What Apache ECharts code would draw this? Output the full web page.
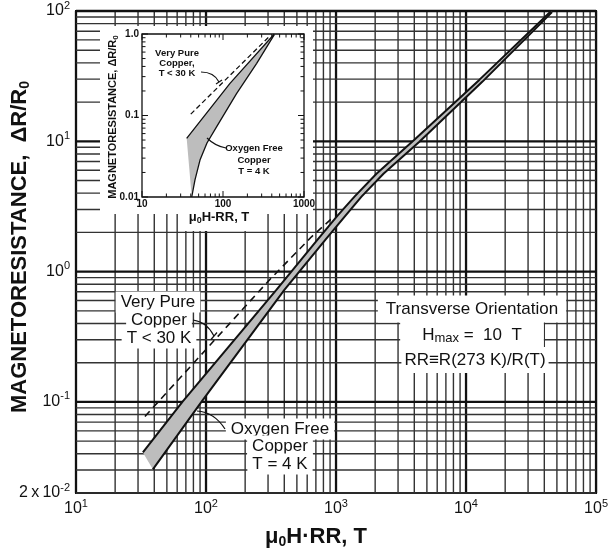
<!DOCTYPE html>
<html>
<head>
<meta charset="utf-8">
<script src="https://cdn.jsdelivr.net/npm/echarts@6/dist/echarts.min.js"></script>
<style>
  html, body { margin: 0; padding: 0; background: #fff; }
  #chart { width: 611px; height: 554px; }
</style>
</head>
<body>
<div id="chart"></div>
<script>
// Magnetoresistance of copper against mu0*H*RR (Kohler plot), log-log.
const FONT = '"Liberation Sans", Arial, Helvetica, sans-serif';

// Main plot: [mu0*H*RR (T), dR/R0]
const pureCopper = [[33.9, 0.0774], [309, 0.868], [648, 1.85], [940, 2.59]];
const ofcUpper = [[32.7, 0.041], [66.3, 0.101], [349, 0.728], [721, 1.76], [1027, 2.69], [1387, 3.76], [2047, 5.64], [4006, 10.27], [12640, 29.6], [45200, 100]];
const ofcLower = [[39.0, 0.0304], [92.8, 0.101], [402, 0.728], [830, 1.76], [1183, 2.69], [1570, 3.76], [2317, 5.64], [4377, 9.91], [13330, 28.6], [45900, 98]];

// Inset: low-field region on its own scale
const insetPure = [[40, 0.104], [380, 0.95]];
const insetUpper = [[35.6, 0.0525], [122, 0.248], [430, 1.0]];
const insetLower = [[41.1, 0.01], [45.1, 0.0162], [52, 0.0284], [63.4, 0.046], [83.6, 0.0729], [147.6, 0.187], [260.6, 0.437], [430, 0.98]];

// Axis ranges / tick labels
const xRange = [10, 100000];
const yRange = [0.02, 100];
const insetXRange = [10, 1000];
const insetYRange = [0.01, 1];
const insetYLabels = { '-2': '0.01', '-1': '0.1', '0': '1.0' };

// log graph-paper rulings: 1..9 in every decade
function logRulings(lo, hi) {
  const out = [];
  for (let e = Math.floor(Math.log10(lo)); e <= Math.ceil(Math.log10(hi)); e++) {
    for (let m = 1; m <= 9; m++) {
      const v = m * Math.pow(10, e);
      if (v >= lo * 0.999 && v <= hi * 1.001) out.push({ v: v, major: m === 1 });
    }
  }
  return out;
}
const xRulings = logRulings(xRange[0], xRange[1]);
const yRulings = logRulings(yRange[0], yRange[1]);
const insetXRulings = logRulings(insetXRange[0], insetXRange[1]);
const insetYRulings = logRulings(insetYRange[0], insetYRange[1]);

function powLabel(v) {
  const e = Math.log10(v);
  const n = Math.round(e);
  if (Math.abs(e - n) < 1e-6) return '{b|10}{s|' + n + '}';
  const f = Math.floor(e);
  return '{b|' + Math.round(v / Math.pow(10, f)) + '\u2009x\u200910}{s|' + f + '}';
}
const powRich = {
  b: { fontFamily: FONT, fontSize: 16, color: '#111', lineHeight: 22 },
  s: { fontFamily: FONT, fontSize: 11, color: '#111', lineHeight: 12, verticalAlign: 'top' }
};

const minorLine = { stroke: '#333', lineWidth: 1.4 };
const majorLine = { stroke: '#111', lineWidth: 2.3 };

function renderRulings(params, api) {
  const children = [];
  xRulings.forEach(function (g) {
    const a = api.coord([g.v, yRange[0]]), b = api.coord([g.v, yRange[1]]);
    children.push({ type: 'line', shape: { x1: a[0], y1: a[1], x2: b[0], y2: b[1] }, style: g.major ? majorLine : minorLine });
  });
  yRulings.forEach(function (g) {
    const a = api.coord([xRange[0], g.v]), b = api.coord([xRange[1], g.v]);
    children.push({ type: 'line', shape: { x1: a[0], y1: a[1], x2: b[0], y2: b[1] }, style: g.major ? majorLine : minorLine });
  });
  return { type: 'group', children: children };
}

function renderInsetTicks(params, api) {
  const children = [];
  const st = { stroke: '#111', lineWidth: 1 };
  insetXRulings.forEach(function (g) {
    const len = g.major ? 6 : 3.5;
    const b = api.coord([g.v, insetYRange[0]]), t = api.coord([g.v, insetYRange[1]]);
    children.push({ type: 'line', shape: { x1: b[0], y1: b[1], x2: b[0], y2: b[1] - len }, style: st });
    children.push({ type: 'line', shape: { x1: t[0], y1: t[1], x2: t[0], y2: t[1] + len }, style: st });
  });
  insetYRulings.forEach(function (g) {
    const len = g.major ? 6 : 3.5;
    const l = api.coord([insetXRange[0], g.v]), r = api.coord([insetXRange[1], g.v]);
    children.push({ type: 'line', shape: { x1: l[0], y1: l[1], x2: l[0] + len, y2: l[1] }, style: st });
    children.push({ type: 'line', shape: { x1: r[0], y1: r[1], x2: r[0] - len, y2: r[1] }, style: st });
  });
  return { type: 'group', children: children };
}

function bandRenderer(upper, lower) {
  return function (params, api) {
    const pts = upper.concat(lower.slice().reverse()).map(function (d) { return api.coord(d); });
    return { type: 'polygon', shape: { points: pts }, style: { fill: '#bdbdbd' } };
  };
}

// white-backed annotation text
function boxText(text, x, y, size, padding) {
  return {
    type: 'text', x: x, y: y, z: 3,
    style: {
      text: text, fontFamily: FONT, fontSize: size, fill: '#111',
      align: 'center', verticalAlign: 'middle',
      backgroundColor: '#fff', padding: padding || [2, 5]
    }
  };
}
function plainText(text, x, y, size, weight) {
  return {
    type: 'text', x: x, y: y, z: 7,
    style: { text: text, fontFamily: FONT, fontSize: size, fontWeight: weight || 'normal', fill: '#111', align: 'center', verticalAlign: 'middle' }
  };
}
function curve(x1, y1, cx, cy, x2, y2) {
  return { type: 'bezierCurve', z: 9, shape: { x1: x1, y1: y1, cpx1: cx, cpy1: cy, x2: x2, y2: y2 }, style: { stroke: '#111', lineWidth: 1.2, fill: null } };
}
function seg(x1, y1, x2, y2) {
  return { type: 'line', z: 9, shape: { x1: x1, y1: y1, x2: x2, y2: y2 }, style: { stroke: '#111', lineWidth: 1.2 } };
}
function richTitle(text, x, y, rot, big, small) {
  return {
    type: 'text', x: x, y: y, rotation: rot, z: 7,
    style: {
      text: text, align: 'center', verticalAlign: 'middle',
      rich: {
        t: { fontFamily: FONT, fontSize: big, fontWeight: 'bold', fill: '#111', lineHeight: big + 3 },
        u: { fontFamily: FONT, fontSize: small, fontWeight: 'bold', fill: '#111', lineHeight: small + 1, verticalAlign: 'bottom' }
      }
    }
  };
}

const chart = echarts.init(document.getElementById('chart'));
const insetXName = richTitle('{t|\u03bc}{u|0}{t|H-RR, T}', 219, 219, 0, 13, 9);
insetXName.style.backgroundColor = '#fff';
insetXName.style.padding = [2, 4, 6, 4];

chart.setOption({
  animation: false,
  backgroundColor: '#fff',
  grid: [
    { left: 76, top: 11, width: 521, height: 482, show: true, borderColor: '#111', borderWidth: 2, backgroundColor: 'transparent', z: 0 },
    { left: 142, top: 34, width: 162, height: 163, show: true, borderColor: '#111', borderWidth: 1.3, backgroundColor: '#fff', z: 6 }
  ],
  xAxis: [
    {
      type: 'log', logBase: 10, gridIndex: 0, min: xRange[0], max: xRange[1],
      axisLine: { show: false }, axisTick: { show: false }, splitLine: { show: false },
      axisLabel: { formatter: powLabel, rich: powRich, margin: 5, showMinLabel: true, showMaxLabel: true }
    },
    {
      type: 'log', logBase: 10, gridIndex: 1, min: insetXRange[0], max: insetXRange[1], z: 6,
      axisLine: { show: false }, axisTick: { show: false }, splitLine: { show: false },
      axisLabel: { fontFamily: FONT, fontSize: 10, fontWeight: 'bold', color: '#111', margin: 2, showMinLabel: true, showMaxLabel: true,
        formatter: function (v) { return String(Math.round(v)); } }
    }
  ],
  yAxis: [
    {
      type: 'log', logBase: 10, gridIndex: 0, min: yRange[0], max: yRange[1],
      axisLine: { show: false }, axisTick: { show: false }, splitLine: { show: false },
      axisLabel: { formatter: powLabel, rich: powRich, margin: 6, showMinLabel: true, showMaxLabel: true }
    },
    {
      type: 'log', logBase: 10, gridIndex: 1, min: insetYRange[0], max: insetYRange[1], z: 6,
      axisLine: { show: false }, axisTick: { show: false }, splitLine: { show: false },
      axisLabel: { fontFamily: FONT, fontSize: 10, fontWeight: 'bold', color: '#111', margin: 3, showMinLabel: true, showMaxLabel: true,
        formatter: function (v) { return insetYLabels[String(Math.round(Math.log10(v)))] || ''; } }
    }
  ],
  series: [
    { type: 'custom', name: 'rulings', xAxisIndex: 0, yAxisIndex: 0, data: [[100, 1]], z: 1, silent: true, renderItem: renderRulings },
    { type: 'custom', name: 'OFC band', xAxisIndex: 0, yAxisIndex: 0, data: [[100, 1]], z: 4, silent: true, renderItem: bandRenderer(ofcUpper, ofcLower) },
    { type: 'line', name: 'OFC upper', xAxisIndex: 0, yAxisIndex: 0, data: ofcUpper, symbol: 'none', z: 5, silent: true, lineStyle: { color: '#111', width: 2 } },
    { type: 'line', name: 'OFC lower', xAxisIndex: 0, yAxisIndex: 0, data: ofcLower, symbol: 'none', z: 5, silent: true, lineStyle: { color: '#111', width: 2 } },
    { type: 'line', name: 'Very pure', xAxisIndex: 0, yAxisIndex: 0, data: pureCopper, symbol: 'none', z: 5, silent: true, lineStyle: { color: '#111', width: 1.6, type: [7, 5] } },

    { type: 'custom', name: 'inset ticks', xAxisIndex: 1, yAxisIndex: 1, data: [[100, 0.1]], z: 7, silent: true, renderItem: renderInsetTicks },
    { type: 'custom', name: 'inset band', xAxisIndex: 1, yAxisIndex: 1, data: [[100, 0.1]], z: 7, silent: true, renderItem: bandRenderer(insetUpper, insetLower) },
    { type: 'line', name: 'inset upper', xAxisIndex: 1, yAxisIndex: 1, data: insetUpper, symbol: 'none', z: 8, silent: true, lineStyle: { color: '#111', width: 1.3 } },
    { type: 'line', name: 'inset lower', xAxisIndex: 1, yAxisIndex: 1, data: insetLower, symbol: 'none', z: 8, silent: true, lineStyle: { color: '#111', width: 1.3 } },
    { type: 'line', name: 'inset pure', xAxisIndex: 1, yAxisIndex: 1, data: insetPure, symbol: 'none', z: 8, silent: true, lineStyle: { color: '#111', width: 1.3, type: [5, 3] } }
  ],
  graphic: [
    // blank panel behind the inset
    { type: 'rect', z: 3, shape: { x: 100, y: 26, width: 213, height: 188 }, style: { fill: '#fff' } },

    // axis titles
    richTitle('{t|MAGNETORESISTANCE,  \u0394R/R}{u|0}', 20, 247, Math.PI / 2, 22, 14),
    richTitle('{t|\u03bc}{u|0}{t|H\u00b7RR, T}', 316, 537, 0, 22, 14),

    // inset titles
    richTitle('{t|MAGNETORESISTANCE, \u0394R/R}{u|0}', 113, 117, Math.PI / 2, 11, 8),
    insetXName,

    // inset annotations
    plainText('Very Pure', 177, 53, 9.5, 'bold'),
    plainText('Copper,', 177, 63, 9.5, 'bold'),
    plainText('T < 30 K', 177, 73, 9.5, 'bold'),
    curve(201, 72, 214, 72, 219, 82),
    seg(216, 84, 222, 80),
    plainText('Oxygen Free', 254, 148, 9.5, 'bold'),
    plainText('Copper', 254, 160, 9.5, 'bold'),
    plainText('T = 4 K', 254, 171, 9.5, 'bold'),
    curve(207, 138, 215, 146, 226, 148),

    // main annotations
    boxText('Very Pure', 158, 302, 17),
    boxText('Copper', 159, 320, 17),
    boxText('T < 30 K', 159, 338, 17),
    curve(193, 320, 207, 322, 214, 336),
    seg(211, 339.5, 217, 332.5),

    boxText('Oxygen Free', 280, 429, 17),
    boxText('Copper', 280, 446, 17),
    boxText('T = 4 K', 280, 464, 17),
    curve(197, 411, 214, 412, 225, 429),

    boxText('Transverse Orientation', 472, 309, 17, [5, 8, 5, 8]),
    {
      type: 'text', x: 472, y: 335, z: 3,
      style: {
        text: '{t|H}{u|max}{t| =  10  T}', align: 'center', verticalAlign: 'middle', backgroundColor: '#fff', padding: [3, 22, 3, 22],
        rich: {
          t: { fontFamily: FONT, fontSize: 17, fill: '#111', lineHeight: 20 },
          u: { fontFamily: FONT, fontSize: 13, fill: '#111', lineHeight: 14, verticalAlign: 'bottom' }
        }
      }
    },
    boxText('RR\u2261R(273 K)/R(T)', 475, 360, 17, [3, 3, 6, 3])
  ]
});
</script>
</body>
</html>
